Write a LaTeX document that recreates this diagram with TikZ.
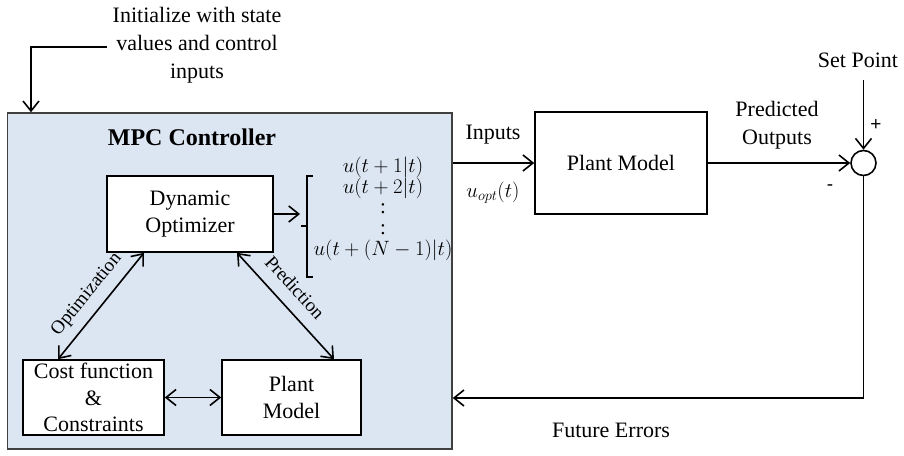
\documentclass[tikz,border=0pt]{standalone}
\usepackage{fontspec}
\setmainfont{Liberation Serif}
\setsansfont{Liberation Sans}
\usetikzlibrary{arrows.meta}
\definecolor{mpcfill}{HTML}{DCE6F2}
\definecolor{mpcline}{HTML}{404040}
\begin{document}
\begin{tikzpicture}[x=1pt,y=-1pt,
  every node/.style={font=\fontsize{22}{27}\selectfont, inner sep=0pt},
  box/.style={draw, line width=1.6pt, fill=white, align=center},
  conn/.style={line width=1.6pt, -{Straight Barb[length=10pt,width=16pt]}},
  dbl/.style={line width=1.6pt, {Straight Barb[length=10pt,width=16pt]}-{Straight Barb[length=10pt,width=16pt]}},
  lbl/.style={font=\fontsize{19}{22}\selectfont},
  mth/.style={font=\fontsize{21}{24}\selectfont},
  sgn/.style={font=\sffamily\fontsize{19}{20}\selectfont},
]
\useasboundingbox (0,0) rectangle (904,455);

% MPC controller container
\node[draw=mpcline, line width=1.4pt, fill=mpcfill, minimum width=444.5pt, minimum height=336pt] (mpc) at (229.75,281) {};
\node[font=\fontsize{24}{28}\bfseries\selectfont] (title) at (192,137) {MPC Controller};

% inner blocks
\node[box, minimum width=166pt, minimum height=76pt] (opt) at (190,214) {Dynamic\\Optimizer};
\node[box, minimum width=141pt, minimum height=75pt, font=\fontsize{22}{26.5}\selectfont] (cost) at (93.5,397.5) {Cost function\\\&\\Constraints};
\node[box, minimum width=139pt, minimum height=75pt] (pin) at (291.5,397.5) {Plant\\Model};

% outer blocks
\node[box, minimum width=172pt, minimum height=102pt] (pout) at (621,163) {Plant Model};
\node[circle, draw, line width=1.6pt, minimum size=25pt] (sum) at (863.5,163) {};

% initialization
\node[align=center, font=\fontsize{22}{28}\selectfont] (init) at (197,45) {Initialize with state\\values and control\\inputs};
\coordinate (i0) at (107,47);
\coordinate (i1) at (31,47);
\draw[conn] (i0) -- (i1) -- (i1 |- mpc.north);

% optimizer output sequence
\coordinate (bt) at (300,214);
\draw[conn] (opt.east) -- (bt);
\coordinate (br0) at (313,176);
\coordinate (br1) at (307,176);
\coordinate (brm) at (307,226);
\coordinate (brt) at (301,226);
\coordinate (br2) at (307,277);
\coordinate (br3) at (313,277);
\draw[line width=1.6pt] (br0) -- (br1) -- (br2) -- (br3);
\draw[line width=1.6pt] (brm) -- (brt);
\node[mth] (u1) at (383,167) {$u(t+1|t)$};
\node[mth] (u2) at (383,188) {$u(t+2|t)$};
\node[mth] (d1) at (383,209) {:};
\node[mth] (d2) at (383,230) {:};
\node[mth] (uN) at (383,250) {$u(t+(N-1)|t)$};

% inner connectors
\draw[dbl] ([xshift=-35.5pt]cost.north) -- node[lbl, sloped, above=9pt] {Optimization} ([xshift=-46pt]opt.south);
\draw[dbl] ([xshift=47pt]opt.south) -- node[lbl, sloped, above=12pt, pos=0.45] {Prediction} ([xshift=42.5pt]pin.north);
\draw[dbl] (cost.east) -- (pin.west);

% outer loop
\node (inl) at (493,135) {Inputs};
\node (uopt) at (493,193) {$u_{opt}(t)$};
\draw[conn] (mpc.east |- pout.west) -- (pout.west);
\node[align=center, font=\fontsize{22}{28}\selectfont] (po) at (777,125) {Predicted\\Outputs};
\draw[conn] (pout.east) -- (sum.west);
\node (sp) at (858,60) {Set Point};
\coordinate (spa) at (863.5,80);
\draw[conn] (spa) -- (sum.north);
\node[sgn] (plus) at (876,125) {+};
\node[sgn] (minus) at (830,188) {-};
\coordinate (fb) at (863.5,398);
\draw[conn] (sum.south) -- (fb) -- (fb -| mpc.east);
\node (fe) at (611,430) {Future Errors};
\end{tikzpicture}
\end{document}
